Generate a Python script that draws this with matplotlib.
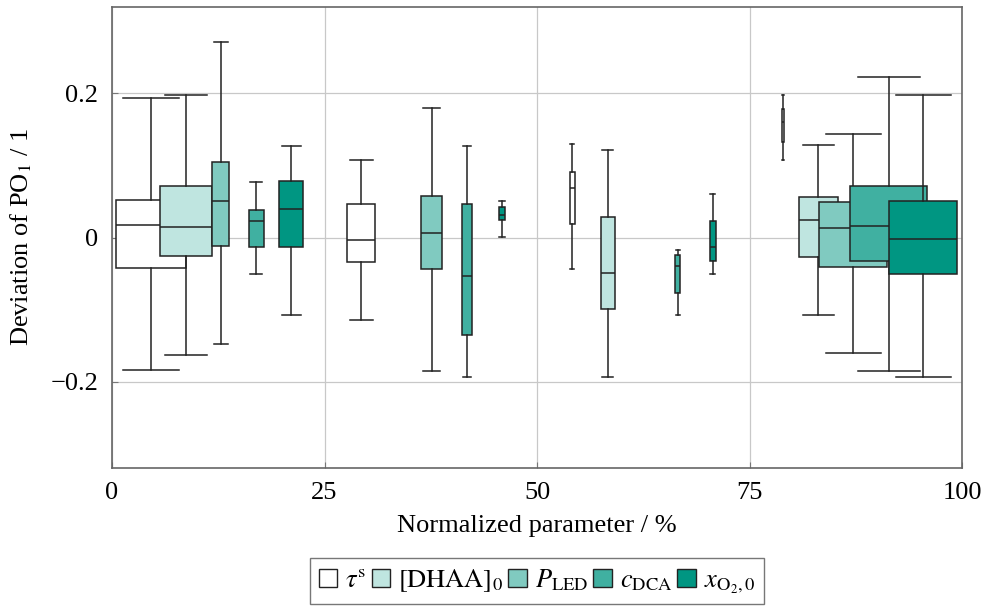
import matplotlib.pyplot as plt
from matplotlib.patches import Patch

plt.rcParams['font.family'] = ['Liberation Serif', 'DejaVu Serif']
plt.rcParams['mathtext.fontset'] = 'stix'
plt.rcParams['font.size'] = 19

# Parameter names and colours (white to teal)
names = [r'$\tau^{\mathrm{s}}$', r'$[\mathrm{DHAA}]_0$', r'$P_{\mathrm{LED}}$',
         r'$c_{\mathrm{DCA}}$', r'$x_{\mathrm{O_2},0}$']
colors = ['#ffffff', '#bfe5e0', '#80cac0', '#40b0a1', '#009682']

# One entry per box: parameter index, position, width, and the five statistics
param = [0, 1, 2, 3, 4,
         0, 2, 3, 4,
         0, 1, 3, 4,
         0, 1, 2, 3, 4]
pos = [4.55, 8.71, 12.79, 16.98, 21.09,
       29.33, 37.61, 41.76, 45.88,
       54.15, 58.32, 66.55, 70.67,
       78.94, 83.09, 87.21, 91.38, 95.45]
width = [8.24, 6.2, 2.0, 1.73, 2.86,
         3.33, 2.51, 1.1, 0.78,
         0.63, 1.69, 0.59, 0.75,
         0.24, 4.55, 8.04, 9.1, 8.0]
whislo = [-0.184, -0.163, -0.148, -0.051, -0.108,
          -0.115, -0.186, -0.193, 0.0005,
          -0.044, -0.193, -0.108, -0.051,
          0.107, -0.108, -0.160, -0.186, -0.193]
q1 = [-0.043, -0.025, -0.012, -0.013, -0.013,
      -0.034, -0.044, -0.136, 0.0245,
      0.019, -0.0995, -0.077, -0.033,
      0.133, -0.027, -0.041, -0.032, -0.050]
med = [0.018, 0.014, 0.051, 0.0236, 0.040,
       -0.003, 0.0056, -0.054, 0.031,
       0.069, -0.049, -0.040, -0.0134,
       0.161, 0.0245, 0.013, 0.016, -0.0014]
q3 = [0.052, 0.071, 0.105, 0.0375, 0.079,
      0.047, 0.058, 0.046, 0.043,
      0.091, 0.029, -0.0245, 0.0236,
      0.179, 0.0565, 0.049, 0.072, 0.051]
whishi = [0.193, 0.198, 0.272, 0.077, 0.127,
          0.108, 0.180, 0.127, 0.051,
          0.130, 0.121, -0.017, 0.060,
          0.198, 0.128, 0.143, 0.223, 0.198]

fig = plt.figure(figsize=(9.9, 6.07), dpi=100)
ax = fig.add_axes([112 / 990, 1 - 468 / 607, 850 / 990, 461 / 607])

for i in range(len(pos)):
    stats = [dict(whislo=whislo[i], q1=q1[i], med=med[i], q3=q3[i], whishi=whishi[i])]
    b = ax.bxp(stats, positions=[pos[i]], widths=[width[i]], capwidths=[0.8 * width[i]],
               patch_artist=True, showfliers=False, manage_ticks=False,
               boxprops=dict(facecolor=colors[param[i]], edgecolor='#222222', linewidth=1.1),
               whiskerprops=dict(color='#222222', linewidth=1.1),
               capprops=dict(color='#222222', linewidth=1.1),
               medianprops=dict(color='#222222', linewidth=1.1))
    for artist in b['boxes'] + b['whiskers'] + b['caps'] + b['medians']:
        artist.set_zorder(3 + i * 0.01)

ax.set_xlim(0, 100)
ax.set_ylim(-0.32, 0.32)
ax.set_xticks([0, 25, 50, 75, 100])
ax.set_xticklabels(['0', '25', '50', '75', '100'])
ax.set_yticks([-0.2, 0, 0.2])
ax.set_yticklabels(['\u22120.2', '0', '0.2'])
ax.grid(True, color='#c8c8c8', linewidth=0.9, zorder=0)
ax.set_axisbelow(True)
ax.tick_params(direction='in', length=4, color='#777777', labelsize=19, pad=10)
for s in ax.spines.values():
    s.set_color('#666666')
    s.set_linewidth(1.2)

ax.set_xlabel('Normalized parameter / %', fontsize=19, labelpad=8)
ax.set_ylabel(r'Deviation of PO$_1$ / 1', fontsize=19, labelpad=12)

handles = [Patch(facecolor=c, edgecolor='#222222', linewidth=1) for c in colors]
leg = ax.legend(handles, names, loc='upper center', bbox_to_anchor=(0.5, -0.195),
                ncol=5, fontsize=19, frameon=True, fancybox=False, borderaxespad=0,
                handlelength=0.7, handleheight=0.7, handletextpad=0.3,
                columnspacing=0.2, borderpad=0.35)
leg.get_frame().set_edgecolor('#555555')
leg.get_frame().set_linewidth(1.0)

fig.savefig('out.png', dpi=100)
